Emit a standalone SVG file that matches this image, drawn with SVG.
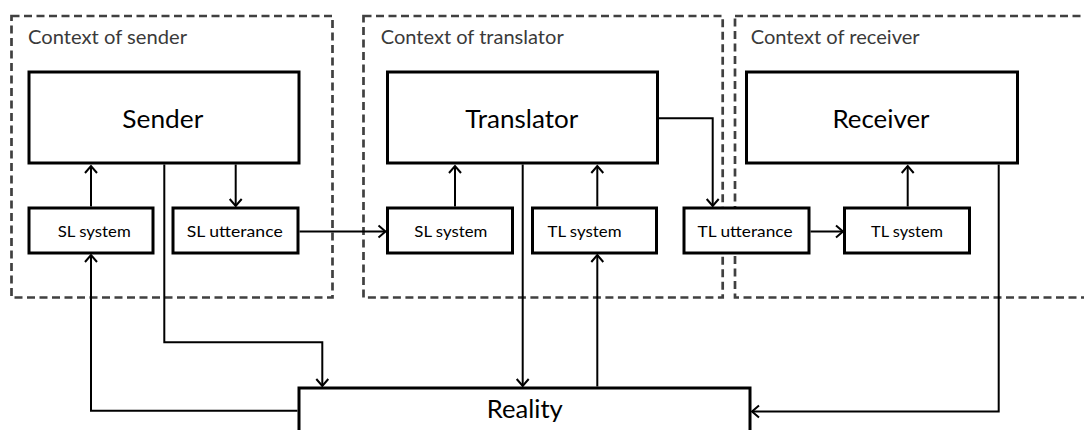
<svg xmlns="http://www.w3.org/2000/svg" width="1084" height="430" viewBox="0 0 1084 430">
<style>
.ctx{fill:none;stroke:#404040;stroke-width:2.7;stroke-dasharray:8 4.5}
.ctxlbl{font-family:Lato,"Open Sans","Liberation Sans",sans-serif;font-size:19px;fill:#3a3a3a}
.box{fill:#fff;stroke:#000;stroke-width:3}
.big{font-family:Lato,"Open Sans","Liberation Sans",sans-serif;font-size:25px;fill:#000;text-anchor:middle}
.small{font-family:Lato,"Open Sans","Liberation Sans",sans-serif;font-size:16px;fill:#000;text-anchor:middle}
.con{fill:none;stroke:#000;stroke-width:2}
</style>
<defs>
<marker id="arr" markerUnits="userSpaceOnUse" markerWidth="16" markerHeight="16" viewBox="-10 -8 12 16" refX="0" refY="0" orient="auto">
<path d="M-7,-6 L0,0 L-7,6" fill="none" stroke="#000" stroke-width="2"/>
</marker>
</defs>
<rect width="1084" height="430" fill="#fff"/>
<g id="contexts">
<g id="ctx-sender"><rect class="ctx" x="11.5" y="16" width="321" height="281.5"/><text class="ctxlbl" x="28" y="44" textLength="159" lengthAdjust="spacingAndGlyphs">Context of sender</text></g>
<g id="ctx-translator"><rect class="ctx" x="363.5" y="16" width="359.2" height="281.5"/><text class="ctxlbl" x="380.7" y="44" textLength="183" lengthAdjust="spacingAndGlyphs">Context of translator</text></g>
<g id="ctx-receiver"><rect class="ctx" x="735" y="16" width="380" height="281.5"/><text class="ctxlbl" x="750.7" y="44" textLength="169" lengthAdjust="spacingAndGlyphs">Context of receiver</text></g>
</g>
<g id="connectors">
<path class="con" d="M91,206.5 V166" marker-end="url(#arr)"/>
<path class="con" d="M235.7,164.5 V206" marker-end="url(#arr)"/>
<path class="con" d="M299.5,231.5 H385.5" marker-end="url(#arr)"/>
<path class="con" d="M455,206.5 V166" marker-end="url(#arr)"/>
<path class="con" d="M597.3,206.5 V166" marker-end="url(#arr)"/>
<path class="con" d="M659,118.3 H712.7 V206" marker-end="url(#arr)"/>
<path class="con" d="M810.5,231.5 H843" marker-end="url(#arr)"/>
<path class="con" d="M907.7,206.5 V166" marker-end="url(#arr)"/>
<path class="con" d="M164.3,164.5 V342.3 H322.3 V386" marker-end="url(#arr)"/>
<path class="con" d="M297.5,410.7 H91 V255" marker-end="url(#arr)"/>
<path class="con" d="M522.7,164.5 V386" marker-end="url(#arr)"/>
<path class="con" d="M597.3,386.5 V255" marker-end="url(#arr)"/>
<path class="con" d="M998.7,164.5 V411.5 H752" marker-end="url(#arr)"/>
</g>
<g id="sender"><rect class="box" x="29" y="72" width="270" height="91"/><text class="big" x="162.8" y="128" textLength="81" lengthAdjust="spacingAndGlyphs">Sender</text></g>
<g id="sl-system-s"><rect class="box" x="29" y="208" width="124" height="45"/><text class="small" x="94.2" y="237" textLength="73" lengthAdjust="spacingAndGlyphs">SL system</text></g>
<g id="sl-utterance"><rect class="box" x="173" y="208" width="125" height="45"/><text class="small" x="234.7" y="237" textLength="96" lengthAdjust="spacingAndGlyphs">SL utterance</text></g>
<g id="translator"><rect class="box" x="387.5" y="72" width="270" height="91"/><text class="big" x="521.7" y="128" textLength="113" lengthAdjust="spacingAndGlyphs">Translator</text></g>
<g id="sl-system-t"><rect class="box" x="387.5" y="208" width="125" height="45"/><text class="small" x="450.8" y="237" textLength="73" lengthAdjust="spacingAndGlyphs">SL system</text></g>
<g id="tl-system-t"><rect class="box" x="532.5" y="208" width="124" height="45"/><text class="small" x="584.5" y="237" textLength="74" lengthAdjust="spacingAndGlyphs">TL system</text></g>
<g id="tl-utterance"><rect class="box" x="684" y="208" width="125" height="45"/><text class="small" x="745" y="237" textLength="95" lengthAdjust="spacingAndGlyphs">TL utterance</text></g>
<g id="receiver"><rect class="box" x="746.5" y="72" width="271" height="91"/><text class="big" x="881" y="128" textLength="97" lengthAdjust="spacingAndGlyphs">Receiver</text></g>
<g id="tl-system-r"><rect class="box" x="844.5" y="208" width="125" height="45"/><text class="small" x="907" y="237" textLength="72" lengthAdjust="spacingAndGlyphs">TL system</text></g>
<g id="reality"><rect class="box" x="299" y="388" width="451" height="60"/><text class="big" x="524.8" y="418" textLength="76" lengthAdjust="spacingAndGlyphs">Reality</text></g>
</svg>
